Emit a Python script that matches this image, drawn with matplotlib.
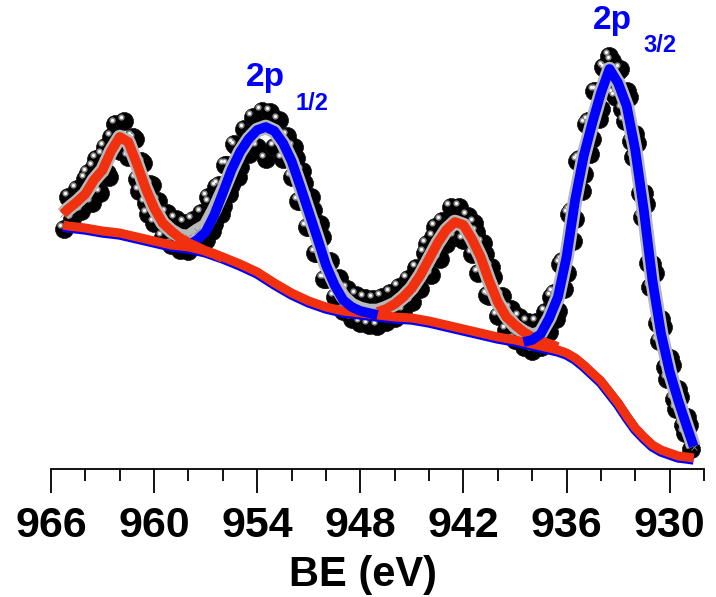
import numpy as np
import matplotlib
matplotlib.use("Agg")
import matplotlib.pyplot as plt
from matplotlib import transforms
from matplotlib.ticker import MultipleLocator

# ---------------- data (BE in eV, intensity in arbitrary units) ----------------
data_be = np.arange(965.25, 928.7, -0.25)
data_int = [240, 272, 250, 280, 258, 290, 268, 302, 280, 314,
            296, 332, 345, 318, 348, 312, 332, 290, 308, 266,
            285, 246, 268, 232, 256, 224, 250, 219, 246, 218,
            249, 224, 256, 229, 266, 245, 284, 263, 304, 284,
            323, 302, 340, 315, 352, 322, 358, 310, 357, 322,
            349, 310, 333, 292, 311, 268, 286, 242, 259, 216,
            232, 190, 208, 172, 191, 158, 180, 150, 174, 146,
            171, 144, 170, 143, 172, 147, 176, 151, 182, 158,
            190, 167, 201, 180, 216, 196, 232, 212, 248, 225,
            262, 232, 262, 229, 253, 215, 237, 197, 215, 173,
            192, 153, 173, 139, 160, 129, 152, 122, 147, 118,
            147, 122, 157, 137, 176, 158, 208, 196, 258, 250,
            310, 295, 348, 330, 378, 360, 400, 413, 375, 398,
            360, 378, 328, 335, 276, 276, 206, 205, 146, 150,
            102, 111, 70, 80, 44, 52, 20]

# additional data points on the steep flanks (intermediate energies)
extra_be = [963.875, 963.625, 963.375, 963.125, 962.875, 962.625,
            961.125, 960.875, 960.625, 960.375, 960.125,
            956.875, 956.625, 956.375, 956.125, 955.875, 955.625, 955.375, 955.125,
            951.875, 951.625, 951.375, 951.125, 950.875, 950.625, 950.375, 950.125,
            944.125, 943.875, 943.625, 943.375,
            941.375, 941.125, 940.875, 940.625, 940.375,
            936.875, 936.625, 936.375, 936.125, 935.875, 935.625, 935.375, 935.125,
            934.875, 934.625, 934.375, 934.125, 933.875, 933.625, 933.375, 933.125,
            932.875, 932.625, 932.375, 932.125, 931.875, 931.625, 931.375, 931.125,
            930.875, 930.625, 930.375, 930.125, 929.875, 929.625, 929.375, 929.125,
            928.875]
extra_int = [296, 266, 310, 276, 322, 292,
             330, 278, 306, 255, 284,
             272, 238, 282, 255, 304, 275, 325, 292,
             322, 268, 298, 242, 272, 216, 245, 190,
             225, 194, 242, 210,
             246, 196, 226, 174, 202,
             172, 150, 205, 180, 255, 228, 308, 278,
             345, 315, 378, 350, 402, 380, 408, 372,
             400, 348, 372, 312, 326, 252, 265, 182,
             196, 128, 142, 90, 104, 60, 72, 36,
             44]

env_be = [965.3] + list(np.arange(965.0, 928.9, -0.5)) + [928.6]
env_int = [254.5, 259.5, 266.5, 274.5, 288.5, 298.5, 317.5, 331.5, 326.5, 304.5,
           280.5, 260.5, 245.5, 237.5, 232.5, 231.5, 237.5, 242.5, 258.5, 277.5,
           298.5, 316.5, 329.5, 338.5, 341.5, 337.5, 325.5, 307.5, 282.5, 256.5,
           230.5, 203.5, 185.5, 171.5, 163.5, 159.5, 157.5, 157.5, 160.5, 164.5,
           171.5, 180.5, 193.5, 209.5, 225.5, 238.5, 246.5, 243.5, 229.5, 211.5,
           187.5, 166.5, 152.5, 142.5, 136.5, 132.5, 135.5, 150.5, 171.5, 211.5,
           268.5, 312.5, 345.5, 375.5, 399.5, 385.5, 362.5, 318.5, 258.0, 188.0,
           135.0, 97.0, 68.0, 42.0, 22.0]

sat1_be = [965.3] + list(np.arange(965.0, 955.9, -0.5))
sat1_int = [254.5, 259.5, 266.5, 274.5, 288.5, 298.5, 317.5, 331.5, 326.5, 304.5,
            280.5, 260.5, 245.5, 237.5, 230.5, 225.5, 221.5, 217.5, 214.5, 210.5]

p12_be = list(np.arange(958.0, 946.9, -0.5))
p12_int = [223.5, 228.5, 236.5, 253.5, 275.5, 298.5, 316.5, 329.5, 338.5, 341.5,
           337.5, 325.5, 307.5, 282.5, 256.5, 230.5, 203.5, 183.5, 168.5, 161.5,
           157.5, 155.5, 153.5]

sat2_be = list(np.arange(947.0, 936.4, -0.5))
sat2_int = [156.5, 159.5, 164.5, 171.5, 180.5, 193.5, 209.5, 225.5, 238.5, 246.5,
            243.5, 229.5, 211.5, 187.5, 166.5, 151.5, 143.5, 136.5, 131.5, 127.5,
            124.5, 121.5]

p32_be = list(np.arange(938.5, 928.9, -0.5)) + [928.6]
p32_int = [126.5, 128.5, 134.5, 150.5, 171.5, 211.5, 268.5, 312.5, 345.5, 375.5,
           399.5, 385.5, 362.5, 318.5, 258.0, 188.0, 135.0, 97.0, 68.0, 42.0, 22.0]

bg_be = [965.3, 965, 964, 963, 962, 961, 960, 959, 958, 957, 956, 955, 954, 953,
         952, 951, 950, 949, 948, 947, 946, 945, 944, 943, 942, 941, 940, 939,
         938, 937, 936.5, 936, 935.5, 935, 934.5, 934, 933.5, 933, 932.5, 932,
         931.5, 931, 930.5, 930, 929.5, 929, 928.6]
bg_int = [243.5, 242.5, 240.5, 237.5, 235.5, 231.5, 227.5, 223.5, 221.5, 217.5,
          211.5, 204.5, 196.5, 185.5, 175.5, 167.5, 161.5, 157.5, 155.5, 153.5,
          151.5, 150.5, 147.5, 143.5, 139.5, 135.5, 131.5, 128.5, 124.5, 120.5,
          118.5, 115.5, 110.5, 103.5, 95.5, 87.5, 76.5, 65.5, 52.5, 40.5,
          31.5, 23.5, 18.5, 15.5, 12.5, 11.5, 10.5]

x_ticks = [966, 960, 954, 948, 942, 936, 930]
x_label = "BE (eV)"

BLUE = "#0000ff"
RED = "#f0300f"
GRAY = "#b8b8b8"

tick_font = ["Liberation Sans Narrow", "Liberation Sans", "DejaVu Sans"]
lab_font = ["Liberation Sans", "DejaVu Sans"]

fig = plt.figure(figsize=(7.16, 5.97), dpi=100)
ax = fig.add_axes([51 / 716, 128.5 / 597, 653 / 716, 468.5 / 597])

# measured data: black spheres with highlight
all_be = list(data_be) + extra_be
all_int = list(data_int) + extra_int
ax.plot(all_be, all_int, "o", ms=13, color="black", mec="#111111", mew=0.5, zorder=2, clip_on=False)
hl = transforms.offset_copy(ax.transData, fig=fig, x=-3.5, y=3.5, units="dots")
ax.plot(all_be, all_int, "o", ms=4.5, color="#8c8c8c", mec="none", transform=hl, zorder=2.1, clip_on=False)
ax.plot(all_be, all_int, "o", ms=2.2, color="white", mec="none", transform=hl, zorder=2.2, clip_on=False)

# envelope
ax.plot(env_be, env_int, "-", color=GRAY, lw=10.5, solid_capstyle="butt", zorder=3)
ax.plot(env_be, env_int, "x", color="#8a8a8a", ms=5, mew=0.6, zorder=3.05)

# backgrounds
bgo = transforms.offset_copy(ax.transData, fig=fig, x=0, y=-1.5, units="dots")
ax.plot(bg_be, bg_int, "-", color=BLUE, lw=7.5, transform=bgo, solid_capstyle="butt", zorder=3.2)
ax.plot(bg_be, bg_int, "-", color=RED, lw=6.5, solid_capstyle="butt", zorder=3.3)

# components
ax.plot(p12_be, p12_int, "-", color=BLUE, lw=7, solid_capstyle="butt", zorder=4)
ax.plot(p32_be, p32_int, "-", color=BLUE, lw=7, solid_capstyle="butt", zorder=4)
ax.plot(sat1_be, sat1_int, "-", color=RED, lw=7, solid_capstyle="butt", zorder=4.1)
ax.plot(sat2_be, sat2_int, "-", color=RED, lw=7, solid_capstyle="butt", zorder=3.9)

# peak labels
ax.text(954.65, 382.5, "2p", color=BLUE, fontsize=24, fontweight="bold", family=lab_font,
        ha="left", va="baseline")
ax.text(951.8, 358.5, "1/2", color=BLUE, fontsize=17, fontweight="bold", family=lab_font,
        ha="left", va="baseline")
ax.text(934.45, 439.5, "2p", color=BLUE, fontsize=24, fontweight="bold", family=lab_font,
        ha="left", va="baseline")
ax.text(931.54, 416.5, "3/2", color=BLUE, fontsize=17, fontweight="bold", family=lab_font,
        ha="left", va="baseline")

ax.set_xlim(966, 928)
ax.set_ylim(0, 468.5)
for s in ["left", "right", "top"]:
    ax.spines[s].set_visible(False)
ax.spines["bottom"].set_linewidth(1.3)
ax.set_yticks([])
ax.set_xticks(x_ticks)
ax.xaxis.set_minor_locator(MultipleLocator(2))
ax.tick_params(axis="x", which="major", direction="out", length=17, width=1.3, pad=10)
ax.tick_params(axis="x", which="minor", direction="out", length=8.5, width=1.3)
for lbl in ax.get_xticklabels():
    lbl.set_family(tick_font)
    lbl.set_fontweight("bold")
    lbl.set_fontsize(31)
ax.set_xlabel(x_label, family=tick_font, fontweight="bold", fontsize=30)
ax.xaxis.set_label_coords((363 - 51) / 653, -0.185)
ax.patch.set_visible(False)

fig.savefig("out.png", dpi=100)
